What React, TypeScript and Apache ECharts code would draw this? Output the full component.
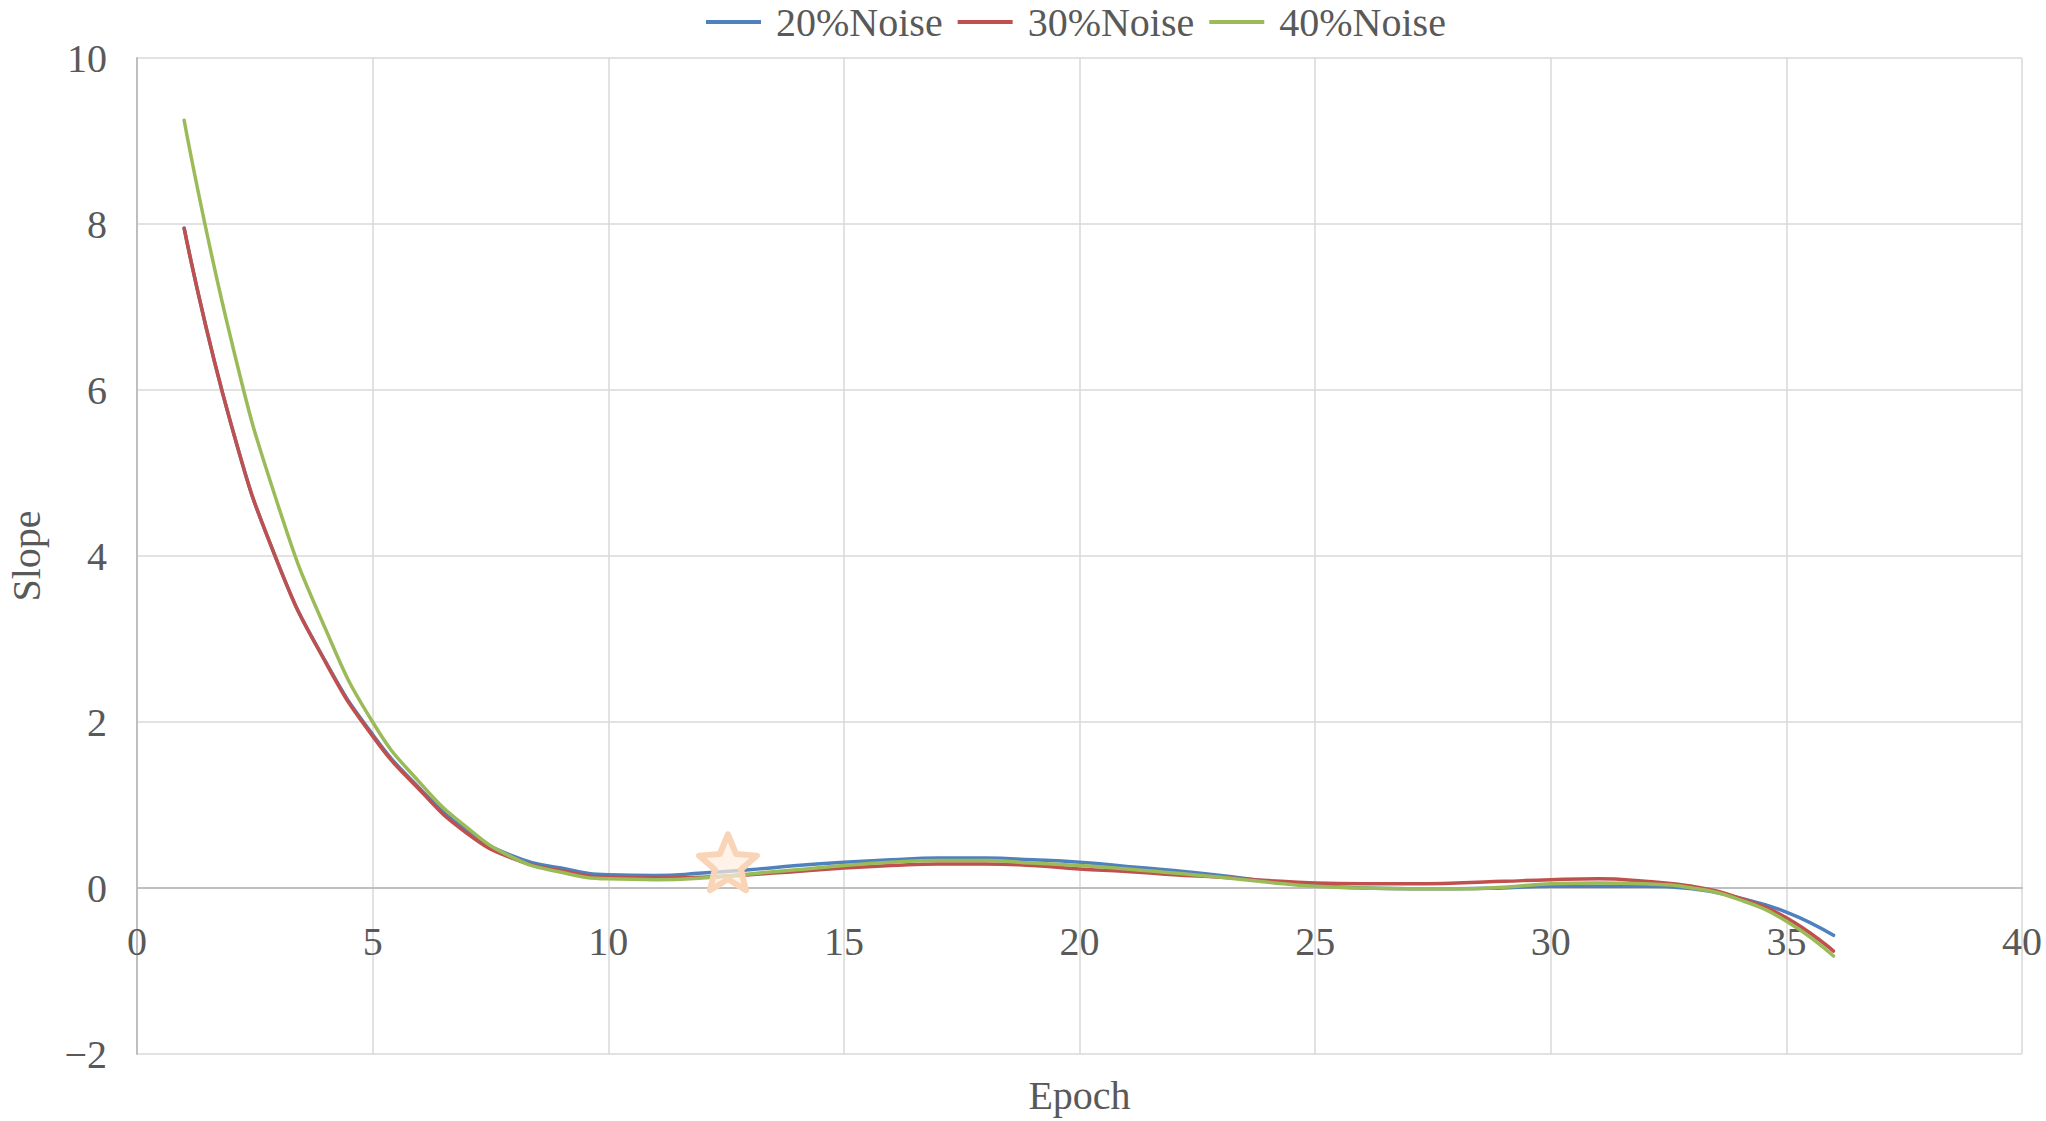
import React, { useEffect, useRef } from "react";
import * as echarts from "echarts";

const epochs: number[] = Array.from({ length: 36 }, (_, i) => i + 1);

const noise20: number[] = [
  7.95, 5.58, 3.9, 2.73, 1.85, 1.2, 0.69, 0.38, 0.24, 0.16,
  0.15, 0.18, 0.22, 0.27, 0.31, 0.34, 0.36, 0.36, 0.34, 0.31,
  0.26, 0.21, 0.15, 0.08, 0.03, 0.0, -0.01, -0.01, 0.0, 0.02,
  0.02, 0.02, -0.01, -0.12, -0.29, -0.57,
];
const noise30: number[] = [
  7.95, 5.58, 3.9, 2.72, 1.83, 1.18, 0.66, 0.35, 0.21, 0.13,
  0.12, 0.13, 0.16, 0.2, 0.24, 0.27, 0.29, 0.29, 0.27, 0.23,
  0.2, 0.16, 0.13, 0.09, 0.06, 0.05, 0.05, 0.06, 0.08, 0.1,
  0.11, 0.08, 0.02, -0.12, -0.36, -0.76,
];
const noise40: number[] = [
  9.25, 6.6, 4.6, 3.12, 2.0, 1.27, 0.73, 0.36, 0.19, 0.11,
  0.1, 0.12, 0.17, 0.22, 0.27, 0.31, 0.33, 0.33, 0.3, 0.27,
  0.23, 0.18, 0.13, 0.07, 0.02, 0.0, -0.01, -0.01, 0.01, 0.05,
  0.06, 0.05, 0.0, -0.14, -0.4, -0.82,
];

const seriesNames: string[] = ["20%Noise", "30%Noise", "40%Noise"];
const seriesColors: string[] = ["#4F81BD", "#C0504D", "#9BBB59"];
const starPoint: number[] = [12.54, 0.31];

const FONT = "'Liberation Serif', 'DejaVu Serif', serif";
const TEXT = "#595959";

function starPath(): string {
  const pts: string[] = [];
  for (let i = 0; i < 10; i++) {
    const r = i % 2 === 0 ? 100 : 45;
    const a = -Math.PI / 2 + (i * Math.PI) / 5;
    pts.push(`${(r * Math.cos(a)).toFixed(2)} ${(r * Math.sin(a)).toFixed(2)}`);
  }
  return "path://M" + pts.join(" L") + " Z";
}

// plot area geometry (pixels)
const GRID_TOP = 58;
const GRID_BOTTOM = 67;
const Y_MIN = -2;
const Y_MAX = 10;
const CHART_H = 1121;

export default function App() {
  const ref = useRef<HTMLDivElement>(null);
  useEffect(() => {
    if (!ref.current) return;
    const chart = echarts.init(ref.current, null, { renderer: "svg" });
    const datasets = [noise20, noise30, noise40];
    const series: any[] = datasets.map((d, i) => ({
      name: seriesNames[i],
      type: "line",
      data: epochs.map((e, j) => [e, d[j]]),
      smooth: 0.5,
      showSymbol: false,
      symbol: "none",
      lineStyle: { color: seriesColors[i], width: 3.5, cap: "round", join: "round" },
      itemStyle: { color: seriesColors[i] },
    }));
    series[2].markPoint = {
      silent: true,
      z: 10,
      symbol: starPath(),
      symbolSize: [58, 56],
      symbolKeepAspect: false,
      label: { show: false },
      itemStyle: {
        color: "rgba(253,236,224,0.7)",
        borderColor: "#FAD4B6",
        borderWidth: 6,
        borderJoin: "round",
      },
      data: [{ coord: starPoint }],
    };
    // move the x axis (line, labels, name) up to the zero line
    const plotH = CHART_H - GRID_TOP - GRID_BOTTOM;
    const zeroOffset = -(plotH * (0 - Y_MIN)) / (Y_MAX - Y_MIN);
    chart.setOption({
      animation: false,
      backgroundColor: "#ffffff",
      textStyle: { fontFamily: FONT },
      legend: {
        left: 706,
        top: 2,
        padding: 0,
        itemWidth: 55,
        itemHeight: 4,
        itemGap: 15,
        icon: "rect",
        data: seriesNames,
        textStyle: {
          fontFamily: FONT,
          fontSize: 40,
          lineHeight: 32,
          color: TEXT,
          padding: [0, 0, 0, 10],
        },
      },
      grid: {
        left: 137,
        right: 24,
        top: GRID_TOP,
        bottom: GRID_BOTTOM,
        containLabel: false,
        outerBoundsMode: "none",
      },
      xAxis: {
        type: "value",
        position: "bottom",
        offset: zeroOffset,
        min: 0,
        max: 40,
        interval: 5,
        name: "Epoch",
        nameLocation: "middle",
        nameGap: 187,
        nameMoveOverlap: false,
        nameTextStyle: { fontFamily: FONT, fontSize: 40, color: TEXT },
        axisLine: { show: true, onZero: false, lineStyle: { color: "#BFBFBF", width: 2 } },
        axisTick: { show: false },
        axisLabel: { fontFamily: FONT, fontSize: 40, color: TEXT, margin: 33 },
        splitLine: { show: true, lineStyle: { color: "#D9D9D9", width: 1.5 } },
      },
      yAxis: {
        type: "value",
        min: Y_MIN,
        max: Y_MAX,
        interval: 2,
        name: "Slope",
        nameLocation: "middle",
        nameGap: 91,
        nameMoveOverlap: false,
        nameTextStyle: { fontFamily: FONT, fontSize: 40, color: TEXT },
        axisLine: { show: true, onZero: false, lineStyle: { color: "#BFBFBF", width: 2 } },
        axisTick: { show: false },
        axisLabel: {
          fontFamily: FONT,
          fontSize: 40,
          color: TEXT,
          margin: 30,
          formatter: (v: number) => (v < 0 ? "\u2212" + Math.abs(v) : String(v)),
        },
        splitLine: { show: true, lineStyle: { color: "#D9D9D9", width: 1.5 } },
      },
      series,
    });
    return () => chart.dispose();
  }, []);
  return (
    <div
      ref={ref}
      style={{ position: "fixed", left: 0, top: 0, width: 2046, height: 1121, background: "#fff" }}
    />
  );
}
